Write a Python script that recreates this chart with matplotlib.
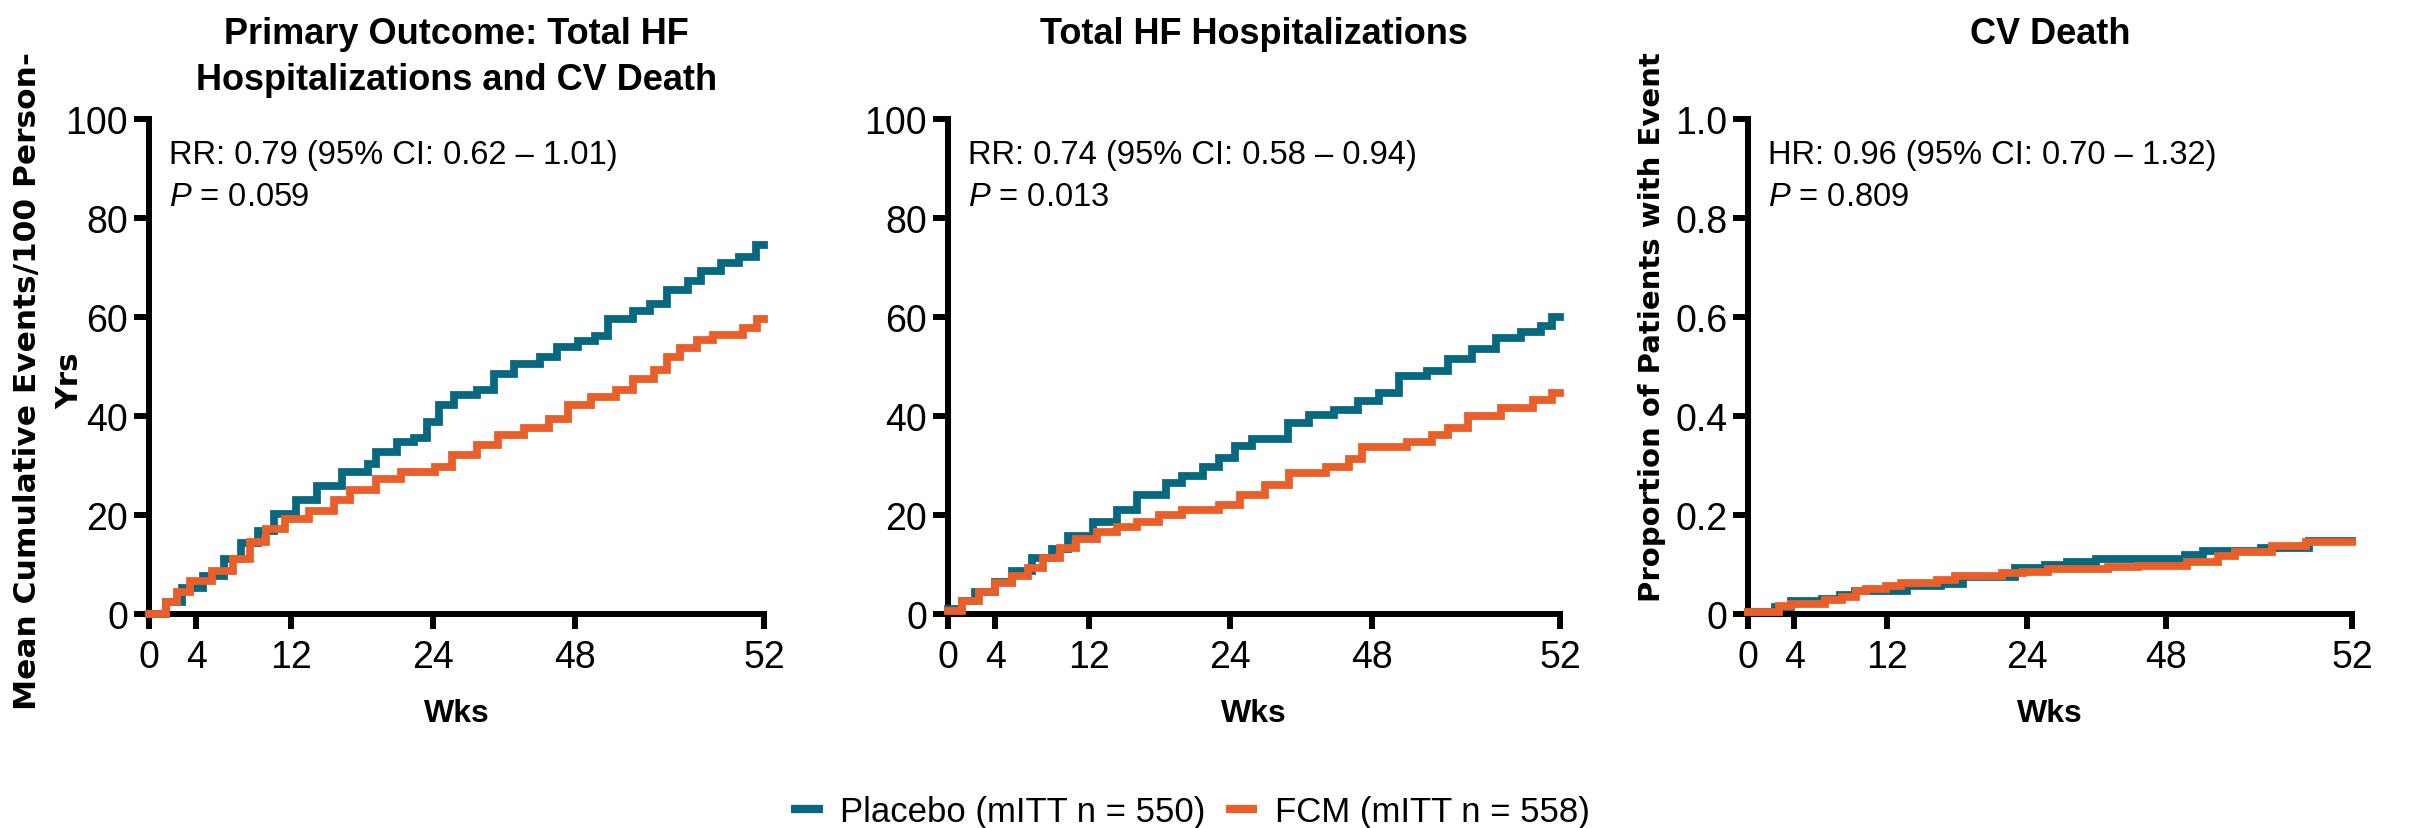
import matplotlib
matplotlib.use("Agg")
import matplotlib.pyplot as plt
import matplotlib.transforms as mtransforms
from matplotlib.lines import Line2D

plt.rcParams['font.family'] = ['Liberation Sans', 'DejaVu Sans']
plt.rcParams['mathtext.fontset'] = 'custom'
plt.rcParams['mathtext.rm'] = 'Liberation Sans'
plt.rcParams['mathtext.it'] = 'Liberation Sans:italic'

# ---------------- data ----------------
titles = ["Primary Outcome: Total HF\nHospitalizations and CV Death",
          "Total HF Hospitalizations",
          "CV Death"]
stats_line1 = ["RR: 0.79 (95% CI: 0.62 \u2013 1.01)",
               "RR: 0.74 (95% CI: 0.58 \u2013 0.94)",
               "HR: 0.96 (95% CI: 0.70 \u2013 1.32)"]
p_values = ["0.059", "0.013", "0.809"]

x_tick_pos = [0, 4, 12, 24, 36, 52]
x_tick_labels = ["0", "4", "12", "24", "48", "52"]
y_ticks_rate = [0, 20, 40, 60, 80, 100]
y_ticklabels_rate = ["0", "20", "40", "60", "80", "100"]
y_ticks_prop = [0, 0.2, 0.4, 0.6, 0.8, 1.0]
y_ticklabels_prop = ["0", "0.2", "0.4", "0.6", "0.8", "1.0"]

series_names = ["Placebo (mITT n = 550)", "FCM (mITT n = 558)"]

# Panel 1: total HF hospitalizations + CV death (events / 100 person-yrs)
p1_placebo_t = [0, 1.4, 2.8, 4.6, 6.3, 7.8, 9.2, 10.6, 12.4, 14.2, 16.3, 18.5, 19.2, 21.0,
                22.4, 23.5, 24.5, 25.8, 27.7, 29.2, 30.9, 33.1, 34.5, 36.3, 37.7, 38.8,
                40.9, 42.4, 43.8, 45.6, 46.7, 48.4, 49.9, 51.3, 52]
p1_placebo_y = [0, 2.4, 5.2, 7.7, 11.1, 14.3, 16.7, 20.2, 23.0, 25.8, 28.6, 30.3, 32.8, 34.8,
                35.5, 38.7, 42.2, 44.3, 45.3, 48.4, 50.5, 51.9, 54.0, 55.1, 56.1, 59.6,
                61.3, 62.7, 65.5, 67.2, 69.3, 71.0, 72.1, 74.5, 74.5]
p1_fcm_t = [0, 1.4, 2.4, 3.5, 5.3, 7.1, 8.5, 9.9, 11.5, 13.5, 15.6, 17.0, 19.2, 21.3, 24.2,
            25.6, 27.7, 29.5, 31.7, 33.8, 35.4, 37.4, 39.5, 40.9, 42.7, 43.8, 44.9, 46.3,
            47.7, 50.2, 51.4, 52]
p1_fcm_y = [0, 2.4, 4.5, 6.6, 8.7, 11.1, 14.6, 17.1, 19.2, 20.9, 23.0, 25.1, 27.2, 28.6, 29.6,
            32.1, 34.2, 36.2, 37.6, 39.4, 42.2, 43.9, 45.3, 47.4, 49.2, 51.9, 53.7, 55.4,
            56.4, 57.8, 59.6, 59.6]

# Panel 2: total HF hospitalizations
p2_placebo_t = [0, 1.2, 2.3, 4.0, 5.4, 7.1, 8.8, 10.2, 12.3, 14.4, 16.1, 18.5, 19.9, 21.7,
                23.0, 24.4, 25.8, 28.9, 30.7, 32.8, 34.8, 36.6, 38.3, 40.7, 42.5, 44.5,
                46.6, 48.7, 50.4, 51.3, 52]
p2_placebo_y = [1.0, 2.7, 4.5, 6.5, 8.6, 11.3, 13.1, 15.8, 18.6, 21.0, 24.1, 26.5, 27.8, 29.6,
                31.6, 34.0, 35.4, 38.5, 40.2, 41.2, 43.0, 44.7, 48.1, 49.1, 51.5, 53.6,
                55.7, 57.0, 58.1, 60.1, 60.1]
p2_fcm_t = [0, 1.2, 2.6, 4.0, 5.4, 6.8, 8.1, 9.5, 10.9, 12.7, 14.4, 16.1, 17.9, 19.9, 23.0,
            24.8, 26.9, 29.0, 32.1, 34.1, 35.2, 39.0, 41.1, 42.5, 44.2, 47.0, 49.7, 51.3, 52]
p2_fcm_y = [0.7, 2.7, 4.5, 6.2, 7.6, 9.3, 11.3, 13.4, 15.1, 16.5, 17.5, 18.6, 19.9, 21.0, 22.0,
            24.1, 26.1, 28.5, 29.6, 31.3, 33.7, 34.7, 36.1, 37.5, 39.9, 41.6, 43.3, 44.7, 44.7]

# Panel 3: CV death (proportion with event)
p3_placebo_t = [0, 2.3, 3.7, 6.4, 7.9, 9.2, 13.7, 16.6, 18.5, 23.0, 25.6, 27.5, 30.0, 37.6,
                39.2, 44.2, 48.3, 52]
p3_placebo_y = [0.005, 0.014, 0.026, 0.030, 0.039, 0.047, 0.056, 0.060, 0.075, 0.092, 0.099,
                0.106, 0.111, 0.120, 0.127, 0.133, 0.148, 0.148]
p3_fcm_t = [0, 2.7, 3.7, 6.6, 8.1, 9.3, 10.2, 11.9, 13.2, 16.3, 17.8, 21.9, 23.7, 25.8, 31.0,
            33.6, 37.8, 40.5, 41.9, 45.1, 48.0, 52]
p3_fcm_y = [0.005, 0.016, 0.021, 0.028, 0.035, 0.047, 0.051, 0.056, 0.0625, 0.068, 0.076,
            0.082, 0.085, 0.090, 0.094, 0.097, 0.106, 0.117, 0.125, 0.1375, 0.146, 0.146]

panels = [
    (p1_placebo_t, p1_placebo_y, p1_fcm_t, p1_fcm_y),
    (p2_placebo_t, p2_placebo_y, p2_fcm_t, p2_fcm_y),
    (p3_placebo_t, p3_placebo_y, p3_fcm_t, p3_fcm_y),
]

# ---------------- style ----------------
C_PLACEBO = "#07687F"
C_FCM = "#E95F2A"
W, H = 2410, 829
LW_SPINE = 4.3
LW_DATA = 5.6
TICK_FS = 27

fig = plt.figure(figsize=(W / 100, H / 100), dpi=100)

axes_px = [(149, 764), (948, 1560), (1748, 2352)]
y_top_px, y_bot_px = 120, 615

for i, ((pt, py, ft, fy), (x0, x1)) in enumerate(zip(panels, axes_px)):
    ax = fig.add_axes([x0 / W, 1 - y_bot_px / H, (x1 - x0) / W, (y_bot_px - y_top_px) / H])
    ax.step(pt, py, where='post', color=C_PLACEBO, lw=LW_DATA, clip_on=False, zorder=3,
            solid_joinstyle='miter')
    ax.step(ft, fy, where='post', color=C_FCM, lw=LW_DATA, clip_on=False, zorder=4,
            solid_joinstyle='miter')
    ax.set_xlim(0, 52)
    ax.set_xticks(x_tick_pos)
    ax.set_xticklabels(x_tick_labels)
    if i < 2:
        ax.set_ylim(0, 100)
        ax.set_yticks(y_ticks_rate)
        ax.set_yticklabels(y_ticklabels_rate)
    else:
        ax.set_ylim(0, 1.0)
        ax.set_yticks(y_ticks_prop)
        ax.set_yticklabels(y_ticklabels_prop)
    for s in ['top', 'right']:
        ax.spines[s].set_visible(False)
    for s in ['left', 'bottom']:
        ax.spines[s].set_linewidth(LW_SPINE)
        ax.spines[s].set_capstyle('projecting')
    ax.tick_params(axis='both', direction='out', length=11, width=LW_SPINE,
                   labelsize=TICK_FS, colors='black')
    ax.tick_params(axis='x', pad=7)
    ax.tick_params(axis='y', pad=4)
    ax.set_xlabel("Wks", fontsize=23, fontweight='bold')
    ax.xaxis.set_label_coords(0.5, -0.17)
    ax.xaxis.label.set_va('top')

    # stats
    ax.text(0.033, 0.929, stats_line1[i], transform=ax.transAxes, fontsize=23.5,
            ha='left', va='center')
    ax.text(0.033, 0.844, r"$P$ = " + p_values[i], transform=ax.transAxes, fontsize=23.5,
            ha='left', va='center')

    # title
    trans = mtransforms.blended_transform_factory(ax.transAxes, fig.transFigure)
    ax.text(0.5, 1 - 17 / H, titles[i], transform=trans, ha='center', va='top',
            fontsize=26, fontweight='bold', linespacing=1.42)

# y labels (panel 1 label is two lines: drawn as two texts)
fig.text(28 / W, 1 - 381 / H, "Mean Cumulative Events/100 Person-",
         rotation=90, ha='center', va='center', fontsize=22.5, fontweight='bold',
         family='DejaVu Sans')
fig.text(70 / W, 1 - 381 / H, "Yrs",
         rotation=90, ha='center', va='center', fontsize=22.5, fontweight='bold',
         family='DejaVu Sans')
fig.text(1652 / W, 1 - 327 / H, "Proportion of Patients with Event",
         rotation=90, ha='center', va='center', fontsize=21, fontweight='bold',
         family='DejaVu Sans')

# legend
handles = [Line2D([], [], color=C_PLACEBO, lw=6, solid_capstyle='butt'),
           Line2D([], [], color=C_FCM, lw=6, solid_capstyle='butt')]
fig.legend(handles, series_names, loc='center', bbox_to_anchor=(0.494, 0.02),
           ncol=2, frameon=False, fontsize=25, handlelength=0.9, handletextpad=0.5,
           columnspacing=0.6)

fig.savefig("out.png", dpi=100)
